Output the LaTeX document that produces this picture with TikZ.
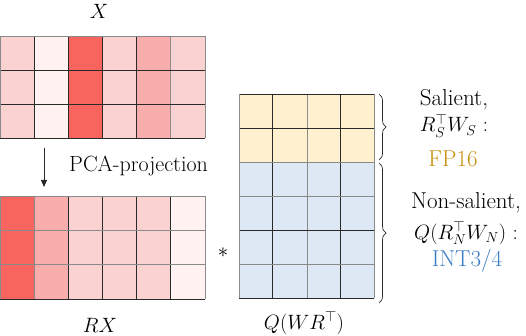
\documentclass[tikz,border=0pt]{standalone}
\usetikzlibrary{decorations.pathreplacing,arrows.meta}
\definecolor{pk}{HTML}{FAD2D2}
\definecolor{wh}{HTML}{FFF2F0}
\definecolor{rd}{HTML}{F8655F}
\definecolor{md}{HTML}{F9ADAD}
\definecolor{yl}{HTML}{FFF0D0}
\definecolor{bl}{HTML}{DEE8F4}
\definecolor{gold}{HTML}{C7900E}
\definecolor{blu}{HTML}{3A7EC6}
\definecolor{dk}{HTML}{2A2A2A}
\definecolor{gr}{HTML}{8A8A8A}
\tikzset{
  dline/.style={draw=dk,line width=0.9pt},
  gline/.style={draw=gr,line width=0.9pt},
  lbl/.style={inner sep=0pt,font=\rmfamily\fontsize{22}{26}\selectfont},
  rlbl/.style={inner sep=0pt,font=\rmfamily\fontsize{23}{27}\selectfont},
  mlbl/.style={inner sep=0pt,font=\rmfamily\fontsize{21}{25}\selectfont},
  bracestyle/.style={decorate,decoration={brace,amplitude=7pt},draw=dk,line width=0.7pt}
}
\begin{document}
\begin{tikzpicture}[x=1pt,y=-1pt]
\useasboundingbox (0,0) rectangle (526,336);
% ---------- X matrix ----------
\foreach \c [count=\i from 0] in {pk,wh,rd,pk,md,pk}
  \fill[\c] (\i*34.17,36) rectangle ++(34.17,102);
\foreach \i in {1,2,3,4} \draw[dline] (\i*34.17,36) -- (\i*34.17,138);
\draw[gline] (5*34.17,36) -- (5*34.17,138);
\foreach \y in {70,104} \draw[dline] (0,\y) -- (205,\y);
\draw[gline] (0.5,36) -- (205,36) -- (205,138);
\draw[dline] (0,138) -- (205,138);
\draw[gline] (0.5,36) -- (0.5,138);
% ---------- RX matrix ----------
\foreach \c [count=\i from 0] in {rd,md,pk,pk,pk,wh}
  \fill[\c] (\i*34.17,196) rectangle ++(34.17,103);
\foreach \i in {2,3,4,5} \draw[dline] (\i*34.17,196) -- (\i*34.17,299);
\draw[gline] (34.17,196) -- (34.17,299);
\foreach \y in {230.3,264.7} \draw[gline] (0,\y) -- (205,\y);
\draw[gline] (0.5,196) -- (205,196) -- (205,299);
\draw[dline] (0,299) -- (205,299);
\draw[gline] (0.5,196) -- (0.5,299);
% ---------- Q matrix ----------
\fill[yl] (239,94) rectangle (374,162);
\fill[bl] (239,162) rectangle (374,298);
\foreach \x in {272.5,340.5} \draw[dline] (\x,94) -- (\x,298);
\draw[gline] (307,94) -- (307,298);
\foreach \y in {128,230} \draw[dline] (239,\y) -- (374,\y);
\foreach \y in {162,196,264} \draw[gline] (239,\y) -- (374,\y);
\draw[dline] (239,94) -- (374,94);
\draw[dline] (239,298) -- (374,298);
\draw[gline] (239,94) -- (239,298);
\draw[gline] (374,94) -- (374,298);
% ---------- labels ----------
\node[mlbl] (xl) at (99,11) {$X$};
\node[mlbl] (rxl) at (100,325) {$RX$};
\node[mlbl] (ql) at (304,323) {$Q(WR^{\top})$};
\coordinate (a1) at (44,148);
\coordinate (a2) at (44,187);
\draw[dk,line width=0.8pt,-{Triangle[length=7pt,width=6pt]}] (a1) -- (a2);
\node[lbl,anchor=base west] (pca) at (69,172) {PCA-projection};
\node[mlbl] (star) at (223,253) {$*$};
% ---------- braces ----------
\coordinate (b1t) at (379,94);
\coordinate (b1b) at (379,160);
\coordinate (b2t) at (379,163);
\coordinate (b2b) at (379,303);
\draw[bracestyle] (b1t) -- (b1b);
\draw[bracestyle] (b2t) -- (b2b);
% ---------- right texts ----------
\node[rlbl,anchor=base] (s1) at (454,106) {Salient,};
\node[mlbl,anchor=base] (s2) at (454,132) {$R_S^{\top}W_S$ :};
\node[rlbl,anchor=base,text=gold] (s3) at (453,167) {FP16};
\node[rlbl,anchor=base] (n1) at (466,209) {Non-salient,};
\node[mlbl,anchor=base] (n2) at (466,239) {$Q(R_N^{\top}W_N)$ :};
\node[rlbl,anchor=base,text=blu] (n3) at (467,266) {INT3/4};
\end{tikzpicture}
\end{document}
